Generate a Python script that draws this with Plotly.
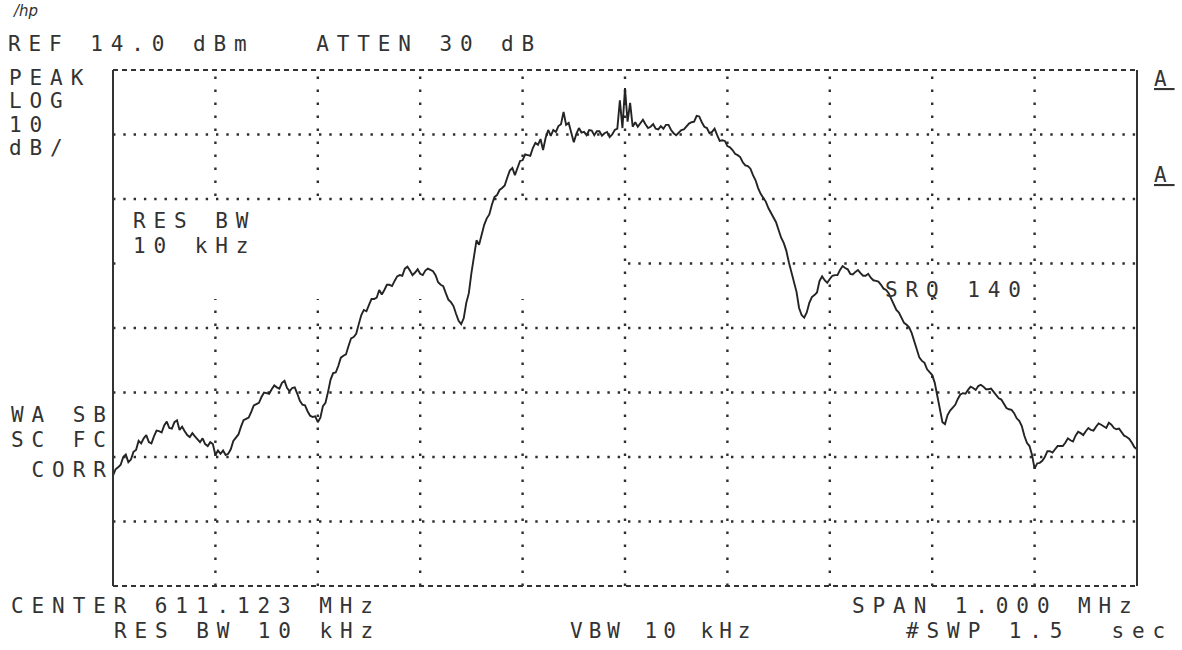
import plotly.graph_objects as go

# ---- data (frequency offset from centre in kHz, level in dBm) ----
freq_khz = [
    -500.0, -497.5, -495.0, -492.5, -490.0, -487.5, -485.0, -482.5, -480.0, -477.5,
    -475.0, -472.5, -470.0, -467.5, -465.0, -462.5, -460.0, -457.5, -455.0, -452.5,
    -450.0, -447.5, -445.0, -442.5, -440.0, -437.5, -435.0, -432.5, -430.0, -427.5,
    -425.0, -422.5, -420.0, -417.5, -415.0, -412.5, -410.0, -407.5, -405.0, -402.5,
    -400.0, -397.5, -395.0, -392.5, -390.0, -387.5, -385.0, -382.5, -380.0, -377.5,
    -375.0, -372.5, -370.0, -367.5, -365.0, -362.5, -360.0, -357.5, -355.0, -352.5,
    -350.0, -347.5, -345.0, -342.5, -340.0, -337.5, -335.0, -332.5, -330.0, -327.5,
    -325.0, -322.5, -320.0, -317.5, -315.0, -312.5, -310.0, -307.5, -305.0, -302.5,
    -300.0, -297.5, -295.0, -292.5, -290.0, -287.5, -285.0, -282.5, -280.0, -277.5,
    -275.0, -272.5, -270.0, -267.5, -265.0, -262.5, -260.0, -257.5, -255.0, -252.5,
    -250.0, -247.5, -245.0, -242.5, -240.0, -237.5, -235.0, -232.5, -230.0, -227.5,
    -225.0, -222.5, -220.0, -217.5, -215.0, -212.5, -210.0, -207.5, -205.0, -202.5,
    -200.0, -197.5, -195.0, -192.5, -190.0, -187.5, -185.0, -182.5, -180.0, -177.5,
    -175.0, -172.5, -170.0, -167.5, -165.0, -162.5, -160.0, -157.5, -155.0, -152.5,
    -150.0, -147.5, -145.0, -142.5, -140.0, -137.5, -135.0, -132.5, -130.0, -127.5,
    -125.0, -122.5, -120.0, -117.5, -115.0, -112.5, -110.0, -107.5, -105.0, -102.5,
    -100.0, -97.5, -95.0, -92.5, -90.0, -87.5, -85.0, -82.5, -80.0, -77.5,
    -75.0, -72.5, -70.0, -67.5, -65.0, -62.5, -60.0, -57.5, -55.0, -52.5,
    -50.0, -47.5, -45.0, -42.5, -40.0, -37.5, -35.0, -32.5, -30.0, -27.5,
    -25.0, -22.5, -20.0, -17.5, -15.0, -12.5, -10.0, -7.5, -5.0, -2.5,
    0.0, 2.5, 5.0, 7.5, 10.0, 12.5, 15.0, 17.5, 20.0, 22.5,
    25.0, 27.5, 30.0, 32.5, 35.0, 37.5, 40.0, 42.5, 45.0, 47.5,
    50.0, 52.5, 55.0, 57.5, 60.0, 62.5, 65.0, 67.5, 70.0, 72.5,
    75.0, 77.5, 80.0, 82.5, 85.0, 87.5, 90.0, 92.5, 95.0, 97.5,
    100.0, 102.5, 105.0, 107.5, 110.0, 112.5, 115.0, 117.5, 120.0, 122.5,
    125.0, 127.5, 130.0, 132.5, 135.0, 137.5, 140.0, 142.5, 145.0, 147.5,
    150.0, 152.5, 155.0, 157.5, 160.0, 162.5, 165.0, 167.5, 170.0, 172.5,
    175.0, 177.5, 180.0, 182.5, 185.0, 187.5, 190.0, 192.5, 195.0, 197.5,
    200.0, 202.5, 205.0, 207.5, 210.0, 212.5, 215.0, 217.5, 220.0, 222.5,
    225.0, 227.5, 230.0, 232.5, 235.0, 237.5, 240.0, 242.5, 245.0, 247.5,
    250.0, 252.5, 255.0, 257.5, 260.0, 262.5, 265.0, 267.5, 270.0, 272.5,
    275.0, 277.5, 280.0, 282.5, 285.0, 287.5, 290.0, 292.5, 295.0, 297.5,
    300.0, 302.5, 305.0, 307.5, 310.0, 312.5, 315.0, 317.5, 320.0, 322.5,
    325.0, 327.5, 330.0, 332.5, 335.0, 337.5, 340.0, 342.5, 345.0, 347.5,
    350.0, 352.5, 355.0, 357.5, 360.0, 362.5, 365.0, 367.5, 370.0, 372.5,
    375.0, 377.5, 380.0, 382.5, 385.0, 387.5, 390.0, 392.5, 395.0, 397.5,
    400.0, 402.5, 405.0, 407.5, 410.0, 412.5, 415.0, 417.5, 420.0, 422.5,
    425.0, 427.5, 430.0, 432.5, 435.0, 437.5, 440.0, 442.5, 445.0, 447.5,
    450.0, 452.5, 455.0, 457.5, 460.0, 462.5, 465.0, 467.5, 470.0, 472.5,
    475.0, 477.5, 480.0, 482.5, 485.0, 487.5, 490.0, 492.5, 495.0, 497.5,
    500.0,
]
level_dbm = [
    -48.9, -47.9, -47.6, -47.2, -46.0, -45.6, -46.8, -46.4, -45.2, -44.9,
    -43.5, -43.9, -43.1, -42.6, -43.7, -43.9, -42.8, -41.9, -42.0, -42.2,
    -41.1, -40.5, -41.5, -41.6, -40.6, -40.3, -41.8, -41.3, -42.0, -42.6,
    -42.9, -42.3, -42.8, -43.3, -43.7, -43.1, -44.0, -44.3, -43.7, -44.0,
    -45.7, -45.0, -45.5, -45.0, -45.7, -45.5, -44.8, -43.5, -42.9, -42.5,
    -41.3, -40.3, -40.1, -39.9, -39.0, -38.0, -37.8, -37.6, -36.7, -36.0,
    -36.1, -36.2, -35.5, -34.9, -35.2, -35.4, -34.5, -34.2, -35.3, -35.8,
    -35.3, -35.2, -36.2, -37.3, -37.9, -38.0, -38.9, -39.6, -39.8, -39.7,
    -40.6, -39.9, -38.1, -37.6, -35.9, -34.0, -33.0, -32.9, -31.9, -30.6,
    -30.3, -30.1, -28.8, -27.6, -27.4, -26.9, -25.4, -24.0, -23.2, -23.4,
    -22.4, -21.5, -21.5, -21.3, -20.1, -20.8, -20.1, -19.3, -19.3, -19.5,
    -18.7, -18.0, -17.8, -17.9, -16.8, -16.5, -17.1, -17.8, -17.4, -16.9,
    -17.6, -17.8, -17.1, -16.8, -17.0, -17.2, -17.8, -18.9, -19.3, -19.5,
    -20.6, -21.6, -22.0, -22.6, -23.8, -24.9, -25.4, -24.5, -22.1, -20.6,
    -17.5, -14.8, -12.4, -13.1, -11.6, -10.0, -9.0, -8.4, -6.9, -5.7,
    -5.4, -4.6, -4.3, -3.9, -2.7, -1.6, -1.2, -2.3, -1.2, -0.1,
    0.0, 0.9, 0.8, 0.7, 1.9, 2.7, 2.4, 3.3, 1.6, 3.5,
    4.7, 3.8, 4.7, 4.4, 5.3, 5.6, 7.5, 5.5, 5.8, 4.3,
    2.8, 4.1, 5.0, 4.3, 4.4, 3.9, 4.7, 4.6, 3.9, 4.5,
    4.5, 3.8, 4.2, 4.4, 3.6, 4.0, 4.7, 4.9, 9.3, 5.0,
    11.2, 6.0, 8.9, 5.2, 5.9, 5.2, 5.8, 6.3, 5.6, 5.0,
    5.2, 5.6, 4.9, 4.8, 5.3, 4.9, 5.5, 5.5, 4.7, 4.2,
    3.9, 4.3, 4.7, 4.8, 5.3, 5.7, 5.9, 6.0, 6.9, 6.8,
    5.9, 5.2, 5.0, 4.2, 4.4, 4.9, 3.9, 3.0, 3.1, 3.0,
    2.2, 2.0, 1.6, 1.0, 0.8, 0.5, -0.3, -0.8, -0.9, -1.3,
    -2.3, -3.1, -4.3, -5.2, -5.8, -6.4, -7.4, -8.2, -8.8, -9.6,
    -10.8, -12.0, -12.8, -14.0, -15.8, -17.5, -18.9, -20.4, -22.9, -24.0,
    -24.4, -23.6, -22.1, -21.2, -20.9, -20.5, -18.7, -18.0, -18.6, -19.0,
    -18.4, -17.9, -17.8, -17.8, -17.0, -16.4, -16.7, -16.9, -17.6, -17.7,
    -17.3, -17.0, -17.5, -17.9, -17.9, -17.6, -18.2, -18.6, -18.7, -18.8,
    -19.3, -19.9, -20.1, -20.6, -21.5, -22.5, -23.2, -23.6, -24.4, -25.2,
    -25.5, -25.9, -26.8, -28.0, -29.4, -30.6, -31.1, -31.4, -32.4, -32.9,
    -33.3, -34.5, -36.7, -39.0, -40.6, -40.9, -39.5, -38.8, -38.4, -37.9,
    -37.0, -36.3, -36.1, -36.2, -35.6, -35.1, -35.3, -35.6, -35.0, -34.8,
    -35.1, -35.5, -35.5, -35.4, -35.9, -36.5, -36.9, -37.1, -37.8, -38.4,
    -38.6, -38.7, -39.2, -40.0, -40.4, -41.2, -42.7, -43.8, -44.3, -45.7,
    -47.8, -47.0, -46.9, -46.6, -46.0, -45.1, -45.1, -45.3, -44.8, -44.3,
    -44.3, -44.3, -43.8, -43.1, -43.4, -43.6, -42.7, -42.1, -42.3, -42.6,
    -42.0, -41.5, -41.8, -41.9, -41.3, -40.8, -41.0, -41.3, -41.5, -40.7,
    -41.0, -41.5, -41.7, -41.6, -42.1, -42.7, -42.9, -43.2, -43.8, -44.5,
    -44.8,
]

ref_level_dbm = 14.0
db_per_div = 10
n_vdiv = 8
span_khz = 1000
x_grid_khz = [-400, -300, -200, -100, 0, 100, 200, 300, 400]
y_grid_dbm = [4, -6, -16, -26, -36, -46, -56]

# ---- figure geometry ----
W, H = 1182, 650
L, R, T, B = 113, 45, 70, 64
PW, PH = W - L - R, H - T - B

INK = "#333333"
GRID = "#2e2e2e"
FONT = "DejaVu Sans Mono"
x_lo, x_hi = -span_khz / 2, span_khz / 2
y_lo, y_hi = ref_level_dbm - n_vdiv * db_per_div, ref_level_dbm

fig = go.Figure()
fig.add_trace(go.Scatter(
    x=freq_khz, y=level_dbm, mode="lines",
    line=dict(color="#242424", width=1.9),
    hoverinfo="skip", showlegend=False,
))


def px(xp):
    return (xp - L) / PW


def py(yp):
    return (H - B - yp) / PH


def label(text, xp, yp, size=21, ls=7.9):
    t = text.replace(" ", "\u00a0")
    fig.add_annotation(
        x=px(xp), y=py(yp), xref="paper", yref="paper",
        text=f'<span style="letter-spacing:{ls}px">{t}</span>',
        showarrow=False, xanchor="left", yanchor="middle",
        borderpad=0, borderwidth=0, align="left",
        font=dict(family=FONT, size=size, color=INK),
    )


# text
fig.add_annotation(x=px(11), y=py(11), xref="paper", yref="paper",
                   text="<i>/hp</i>", showarrow=False, xanchor="left",
                   yanchor="middle", borderpad=0,
                   font=dict(family="DejaVu Sans", size=15, color=INK))
label("REF 14.0 dBm   ATTEN 30 dB", 8, 44)
label("PEAK", 9, 78)
label("LOG", 9, 101)
label("10", 9, 125)
label("dB/", 9, 148)
label("RES BW", 133, 221)
label("10 kHz", 133, 246)
label("SRQ 140", 885, 290)
label("WA SB", 11, 415)
label("SC FC", 11, 440)
label(" CORR", 11, 470)
label("CENTER 611.123 MHz", 11, 606)
label("RES BW 10 kHz", 114, 631)
label("VBW 10 kHz", 570, 631, ls=6.0)
label("SPAN 1.000 MHz", 852, 606)
label("#SWP 1.5  sec", 906, 631)
label("<u>A</u>", 1154, 79)
label("<u>A</u>", 1154, 175)

# graticule (dotted), drawn beneath the trace
for xv in x_grid_khz:
    fig.add_shape(type="line", xref="x", yref="y", x0=xv, x1=xv,
                  y0=y_lo, y1=y_hi, layer="below",
                  line=dict(color=GRID, width=2.4, dash="2.4px,10.6px"))
for yv in y_grid_dbm:
    fig.add_shape(type="line", xref="x", yref="y", x0=x_lo, x1=x_hi,
                  y0=yv, y1=yv, layer="below",
                  line=dict(color=GRID, width=2.4, dash="2.4px,7.9px"))
# blank patch of graticule behind the RES BW text
fig.add_shape(type="rect", xref="x", yref="y",
              x0=x_lo + 8, x1=-3, y0=-21.5, y1=-6.7,
              fillcolor="white", line=dict(width=0), layer="below")

# frame
frame = [
    dict(x0=0, x1=0, y0=0, y1=1, dash="solid"),
    dict(x0=1, x1=1, y0=0, y1=1, dash="solid"),
    dict(x0=0, x1=1, y0=1, y1=1, dash="5px,4px"),
    dict(x0=0, x1=1, y0=0, y1=0, dash="5px,4px"),
]
for f in frame:
    fig.add_shape(type="line", xref="paper", yref="paper",
                  x0=f["x0"], x1=f["x1"], y0=f["y0"], y1=f["y1"],
                  line=dict(color="#333333", width=2, dash=f["dash"]),
                  layer="above")

fig.update_xaxes(range=[x_lo, x_hi], showticklabels=False, ticks="",
                 showline=False, zeroline=False, showgrid=False)
fig.update_yaxes(range=[y_lo, y_hi], showticklabels=False, ticks="",
                 showline=False, zeroline=False, showgrid=False)
fig.update_layout(
    width=W, height=H, autosize=False,
    margin=dict(l=L, r=R, t=T, b=B, pad=0),
    paper_bgcolor="white", plot_bgcolor="white",
    showlegend=False,
)

fig.write_html("out.html", config={"displayModeBar": False},
               post_script="document.body.style.margin='0';")
